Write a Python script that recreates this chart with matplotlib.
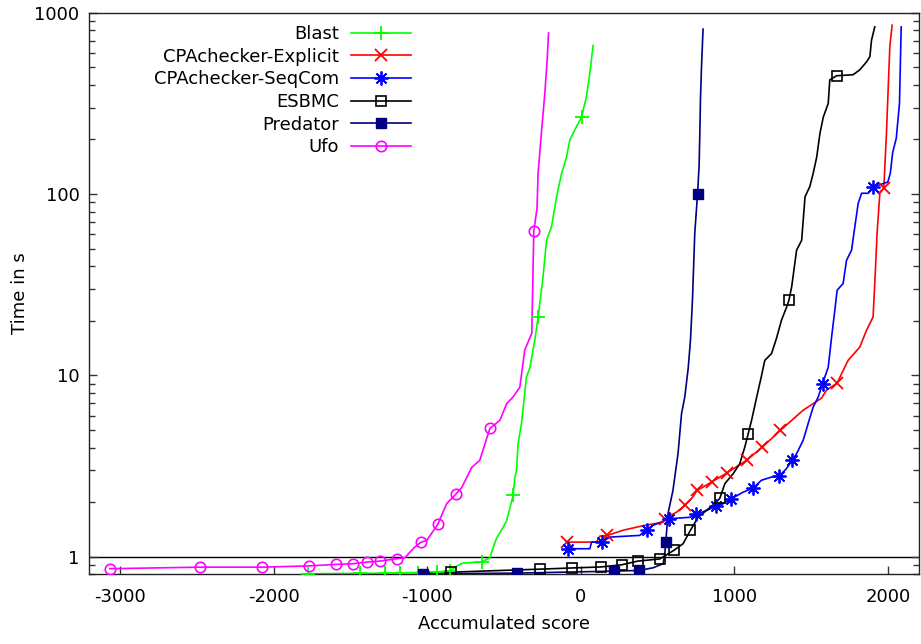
import matplotlib
matplotlib.use("Agg")
import matplotlib.pyplot as plt
from matplotlib.lines import Line2D
from matplotlib.ticker import FixedLocator, NullFormatter, LogLocator

plt.rcParams['font.family'] = ['DejaVu Sans']

# ---------------- data ----------------
blast_x = [-1797, -1439, -1178, -938, -853, -801, -768, -645, -592, -573, -549, -517, -484,
           -462, -441, -430, -419, -408, -386, -365, -354, -332, -311, -299, -278, -256,
           -246, -223, -191, -158, -126, -93, -72, -39, 5, 37, 59, 80]
blast_y = [0.806, 0.809, 0.814, 0.824, 0.835, 0.895, 0.922, 0.938, 0.987, 1.111, 1.26, 1.40, 1.57,
           1.85, 2.18, 2.70, 2.99, 4.22, 5.44, 7.98, 9.78, 10.98, 13.8, 15.7, 21.0, 29.5,
           34.9, 55.6, 65.8, 96.2, 129, 160, 198, 226, 266, 345, 464, 660]
blast_mx = [-1777, -1439, -1276, -1178, -1061, -938, -853, -645, -441, -278, 5]
blast_my = [0.806, 0.809, 0.811, 0.814, 0.818, 0.824, 0.835, 0.938, 2.18, 21.0, 266]

cpaexp_x = [-93, 102, 124, 173, 275, 417, 536, 547, 623, 677, 729, 757, 851, 949, 1079, 1183,
            1300, 1447, 1567, 1600, 1669, 1740, 1816, 1860, 1903, 1914, 1929, 1947, 1973,
            1990, 2012, 2027]
cpaexp_y = [1.204, 1.204, 1.30, 1.31, 1.40, 1.49, 1.55, 1.62, 1.76, 1.92, 2.13, 2.32, 2.58, 2.89,
            3.40, 4.03, 4.98, 6.42, 7.49, 8.30, 9.07, 12.1, 14.3, 17.7, 21.0, 32.1, 60.7, 101,
            108, 216, 650, 853]
cpaexp_mx = [-93, 173, 547, 677, 757, 851, 949, 1079, 1183, 1300, 1669, 1973]
cpaexp_my = [1.204, 1.31, 1.62, 1.92, 2.32, 2.58, 2.89, 3.40, 4.03, 4.98, 9.07, 108]

cpaseq_x = [-83, 59, 70, 135, 189, 384, 428, 471, 575, 710, 753, 818, 883, 926, 981, 1057,
            1122, 1176, 1242, 1291, 1339, 1376, 1405, 1448, 1480, 1513, 1546, 1574, 1611,
            1633, 1654, 1669, 1708, 1730, 1763, 1784, 1806, 1828, 1871, 1904, 1999, 2015,
            2031, 2054, 2075, 2086]
cpaseq_y = [1.107, 1.107, 1.204, 1.204, 1.283, 1.311, 1.41, 1.49, 1.62, 1.65, 1.71, 1.80, 1.90,
            1.96, 2.09, 2.27, 2.39, 2.64, 2.75, 2.78, 3.06, 3.40, 3.70, 4.39, 5.42, 6.69, 7.60,
            9.01, 11.1, 16.3, 22.9, 29.5, 32.1, 43.1, 49.1, 65.8, 88.8, 101, 101, 109.5,
            116.5, 130, 170, 203, 317, 835]
cpaseq_mx = [-83, 135, 428, 575, 753, 883, 981, 1122, 1291, 1376, 1574, 1904]
cpaseq_my = [1.107, 1.204, 1.41, 1.62, 1.71, 1.90, 2.09, 2.39, 2.78, 3.40, 9.01, 109.5]

esbmc_x = [-1061, -846, -267, -59, 130, 267, 371, 514, 605, 666, 714, 764, 818, 883, 905, 938,
           992, 1035, 1068, 1090, 1112, 1145, 1177, 1198, 1242, 1274, 1307, 1340, 1355, 1373,
           1405, 1438, 1460, 1491, 1513, 1536, 1557, 1579, 1611, 1621, 1665, 1773, 1816,
           1860, 1882, 1893, 1914]
esbmc_y = [0.814, 0.822, 0.854, 0.867, 0.878, 0.903, 0.946, 0.972, 1.083, 1.18, 1.40, 1.65, 1.80,
           2.00, 2.10, 2.53, 2.87, 3.26, 4.03, 4.77, 5.66, 7.58, 9.99, 12.1, 13.2, 16.0, 20.2,
           23.8, 25.9, 30.8, 49.0, 55.6, 96.6, 110, 130, 160, 216, 266, 316, 426, 449, 455,
           484, 535, 572, 707, 836]
esbmc_mx = [-846, -267, -59, 130, 267, 371, 514, 605, 714, 905, 1090, 1355, 1665]
esbmc_my = [0.822, 0.854, 0.867, 0.878, 0.903, 0.946, 0.972, 1.083, 1.40, 2.10, 4.77, 25.9, 449]

pred_x = [-1027, -413, 218, 380, 471, 536, 547, 553, 568, 600, 633, 656, 677, 699, 714, 727,
          742, 760, 770, 775, 779, 786, 796]
pred_y = [0.805, 0.812, 0.833, 0.840, 0.869, 0.915, 1.04, 1.20, 1.73, 2.32, 3.70, 6.16, 7.60,
          10.9, 15.6, 26.0, 60.6, 100, 141, 215, 330, 505, 812]
pred_mx = [-1027, -413, 218, 380, 553, 760]
pred_my = [0.805, 0.812, 0.833, 0.840, 1.20, 100]

ufo_x = [-3066, -2480, -2077, -1771, -1595, -1484, -1393, -1309, -1198, -1146, -1102, -1081,
         -1042, -1003, -931, -872, -814, -775, -710, -658, -592, -527, -482, -443, -397, -365,
         -319, -306, -285, -278, -256, -234, -219, -210]
ufo_y = [0.859, 0.876, 0.876, 0.890, 0.907, 0.915, 0.934, 0.946, 0.975, 0.987, 1.083, 1.13,
         1.20, 1.23, 1.51, 1.97, 2.21, 2.41, 3.11, 3.40, 5.1, 5.65, 7.0, 7.57, 8.6, 13.8,
         17.1, 62.5, 83.6, 130, 220, 360, 548, 773]
ufo_mx = [-3066, -2480, -2077, -1771, -1595, -1484, -1393, -1309, -1198, -1042, -931, -814, -592, -306]
ufo_my = [0.859, 0.876, 0.876, 0.890, 0.907, 0.915, 0.934, 0.946, 0.975, 1.20, 1.51, 2.21, 5.1, 62.5]

names = ["Blast", "CPAchecker-Explicit", "CPAchecker-SeqCom", "ESBMC", "Predator", "Ufo"]
xtick_vals = [-3000, -2000, -1000, 0, 1000, 2000]
ytick_vals = [1, 10, 100, 1000]

# ---------------- styles ----------------
asterisk = (8, 2, 0)
styles = [
    dict(color="#00ff00", marker="+", ms=10, mfc="none", mew=1.3),
    dict(color="#ff0000", marker="x", ms=8, mfc="none", mew=1.3),
    dict(color="#0000ff", marker=asterisk, ms=10, mfc="none", mew=1.3),
    dict(color="#000000", marker="s", ms=7, mfc="none", mew=1.2),
    dict(color="#000080", marker="s", ms=7.5, mfc="#000080", mew=1.0),
    dict(color="#ff00ff", marker="o", ms=7.5, mfc="none", mew=1.2),
]
series = [
    (blast_x, blast_y, blast_mx, blast_my),
    (cpaexp_x, cpaexp_y, cpaexp_mx, cpaexp_my),
    (cpaseq_x, cpaseq_y, cpaseq_mx, cpaseq_my),
    (esbmc_x, esbmc_y, esbmc_mx, esbmc_my),
    (pred_x, pred_y, pred_mx, pred_my),
    (ufo_x, ufo_y, ufo_mx, ufo_my),
]

fig = plt.figure(figsize=(9.21, 6.44), dpi=100)
ax = fig.add_axes([89.3 / 921, (644 - 574.3) / 644, (918.7 - 89.3) / 921, (574.3 - 12.7) / 644])

ax.axhline(1, color="black", lw=1.0, zorder=1)

handles = []
for (xs, ys, mx, my), st, name in zip(series, styles, names):
    ax.plot(xs, ys, color=st["color"], lw=1.2, zorder=2)
    ax.plot(mx, my, ls="none", marker=st["marker"], ms=st["ms"], mfc=st["mfc"],
            mec=st["color"], mew=st["mew"], zorder=3)
    handles.append(Line2D([], [], color=st["color"], lw=1.2, marker=st["marker"], ms=st["ms"],
                          mfc=st["mfc"], mec=st["color"], mew=st["mew"]))

ax.set_yscale("log")
ax.set_xlim(-3200, 2200)
ax.set_ylim(0.8, 1000)

ax.xaxis.set_major_locator(FixedLocator(xtick_vals))
ax.set_xticklabels([str(v) for v in xtick_vals])
ax.yaxis.set_major_locator(FixedLocator(ytick_vals))
ax.set_yticklabels([str(v) for v in ytick_vals])
ax.yaxis.set_minor_locator(LogLocator(base=10, subs=range(2, 10), numticks=20))
ax.yaxis.set_minor_formatter(NullFormatter())

ax.tick_params(axis="both", which="major", direction="in", length=6, width=1, labelsize=13,
               color="#333333")
ax.tick_params(axis="y", which="both", left=True, right=True, direction="in")
ax.tick_params(axis="y", which="minor", length=4, width=1, color="#333333")
ax.tick_params(axis="x", which="both", top=False, bottom=True)
ax.tick_params(axis="x", which="major", pad=10)
ax.tick_params(axis="y", which="major", pad=7)

for sp in ax.spines.values():
    sp.set_color("#222222")
    sp.set_linewidth(1.0)

ax.set_xlabel("Accumulated score", fontsize=13, labelpad=6)
ax.set_ylabel("Time in s", fontsize=13, labelpad=4)

leg = ax.legend(handles, names, loc="upper right", bbox_to_anchor=(411 / 921, (644 - 25) / 644),
                bbox_transform=fig.transFigure, frameon=False, markerfirst=False,
                handlelength=3.3, handletextpad=0.7, labelspacing=0.26, borderpad=0,
                borderaxespad=0, fontsize=13, numpoints=1)

fig.savefig("out.png", dpi=100)
